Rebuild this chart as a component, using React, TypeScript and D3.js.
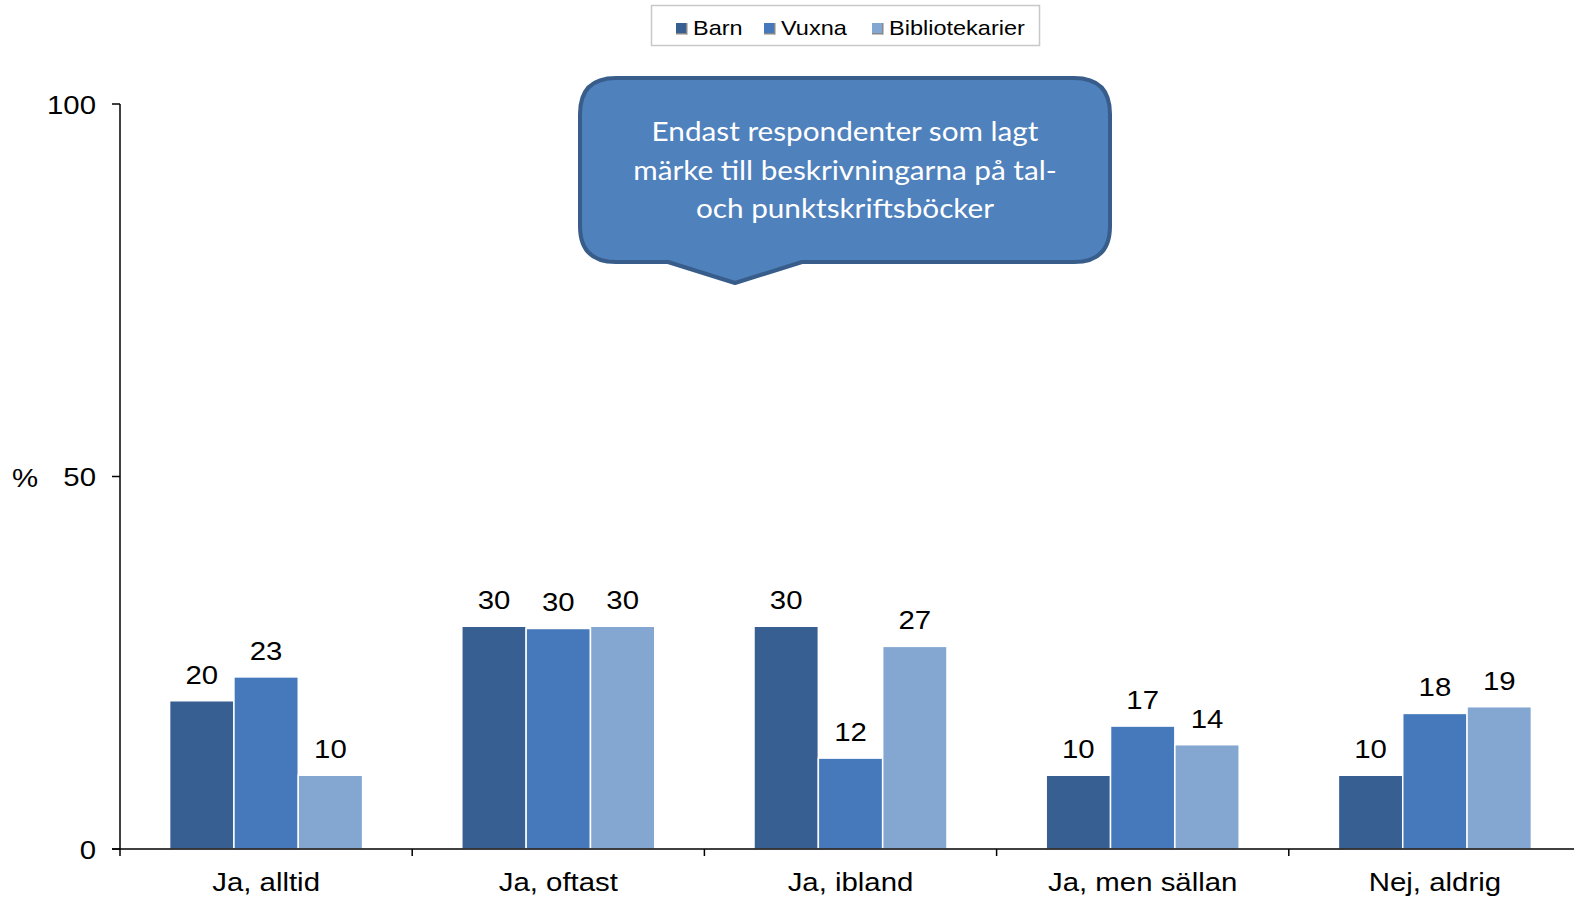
import React from "react";
import * as d3 from "d3";

const categories = ["Ja, alltid", "Ja, oftast", "Ja, ibland", "Ja, men sällan", "Nej, aldrig"];
const seriesNames = ["Barn", "Vuxna", "Bibliotekarier"];
const barn = [19.9, 29.9, 29.9, 9.9, 9.9];
const vuxna = [23.1, 29.6, 12.2, 16.5, 18.2];
const bibliotekarier = [9.9, 29.9, 27.2, 14.0, 19.1];
const yTicks = [0, 50, 100];
const calloutLines = [
  "Endast respondenter som lagt",
  "märke till beskrivningarna på tal-",
  "och punktskriftsböcker",
];

const colors = ["#375f91", "#4679bb", "#84a7d1"];
const W = 1574;
const H = 899;
const FONT = "'Liberation Sans', Arial, sans-serif";
const SX = 1.13;

function T({ x, y, sx = SX, anchor = "start", size = 26, fill = "#000", family, children }: any) {
  return (
    <text
      transform={`translate(${x},${y}) scale(${sx},1)`}
      textAnchor={anchor}
      fontSize={size}
      fill={fill}
      fontFamily={family}
    >
      {children}
    </text>
  );
}

export default function App() {
  const x0 = 120;
  const step = 292.2;
  const x = d3.scaleBand<string>().domain(categories).range([x0, x0 + step * categories.length]).padding(0);
  const y = d3.scaleLinear().domain([0, 100]).range([849, 104]);
  const groupW = 193;
  const inner = d3.scaleBand<string>().domain(seriesNames).range([0, groupW]).padding(0);
  const values = [barn, vuxna, bibliotekarier];

  const cx0 = 580, cx1 = 1110, cy0 = 78, cy1 = 262, r = 36;
  const px0 = 668, px1 = 802, ptx = 735, pty = 283;
  const callout = `M${cx0 + r},${cy0} L${cx1 - r},${cy0} Q${cx1},${cy0} ${cx1},${cy0 + r} L${cx1},${cy1 - r} Q${cx1},${cy1} ${cx1 - r},${cy1} L${px1},${cy1} L${ptx},${pty} L${px0},${cy1} L${cx0 + r},${cy1} Q${cx0},${cy1} ${cx0},${cy1 - r} L${cx0},${cy0 + r} Q${cx0},${cy0} ${cx0 + r},${cy0} Z`;

  const legendItems = [
    { name: "Barn", sq: 676, tx: 693 },
    { name: "Vuxna", sq: 764, tx: 781 },
    { name: "Bibliotekarier", sq: 872, tx: 889 },
  ];

  return (
    <svg width={W} height={H} style={{ position: "fixed", left: 0, top: 0, background: "#fff" }} fontFamily={FONT}>
      <rect x={651.5} y={5.5} width={388} height={40} fill="#fff" stroke="#c8c8c8" strokeWidth={1.5} />
      {legendItems.map((it, i) => (
        <g key={it.name}>
          <rect x={it.sq} y={23} width={10} height={11} fill={colors[i]} />
          <rect x={it.sq} y={33} width={11} height={1.5} fill="#888" />
          <rect x={it.sq + 10} y={23} width={1.5} height={11.5} fill="#888" />
          <T x={it.tx} y={35} size={21} sx={1.12}>{it.name}</T>
        </g>
      ))}

      {categories.map((c, ci) => {
        const gx = (x(c) as number) + x.bandwidth() / 2 - groupW / 2;
        return (
          <g key={c}>
            {seriesNames.map((s, si) => {
              const v = values[si][ci];
              const bx = gx + (inner(s) as number);
              return (
                <g key={s}>
                  <rect x={bx} y={y(v)} width={inner.bandwidth()} height={y(0) - y(v)} fill={colors[si]} stroke="#fff" strokeWidth={1.5} />
                  <T x={bx + inner.bandwidth() / 2} y={y(v) - 17} anchor="middle">
                    {Math.round(v)}
                  </T>
                </g>
              );
            })}
          </g>
        );
      })}

      <line x1={x0} x2={x0} y1={y(100)} y2={y(0)} stroke="#000" strokeWidth={1.5} />
      {yTicks.map((t) => (
        <g key={t}>
          <line x1={112} x2={x0} y1={y(t)} y2={y(t)} stroke="#000" strokeWidth={1.5} />
          <T x={96} y={y(t) + 9.5} anchor="end">{t}</T>
        </g>
      ))}
      <T x={12} y={487}>%</T>

      <line x1={x0 - 8} x2={W} y1={y(0)} y2={y(0)} stroke="#000" strokeWidth={1.5} />
      {categories.map((c) => (
        <line key={"t" + c} x1={(x(c) as number)} x2={(x(c) as number)} y1={y(0)} y2={y(0) + 7} stroke="#000" strokeWidth={1.5} />
      ))}
      {categories.map((c) => (
        <T key={"l" + c} x={(x(c) as number) + x.bandwidth() / 2} y={891} anchor="middle">
          {c}
        </T>
      ))}

      <path d={callout} fill="#4f81bd" stroke="#385d8a" strokeWidth={4} strokeLinejoin="round" />
      {calloutLines.map((l, i) => (
        <T key={i} x={845} y={141 + i * 38.5} anchor="middle" size={27} sx={1.1} fill="#fff" family="Lato, 'Open Sans', sans-serif">
          {l}
        </T>
      ))}
    </svg>
  );
}
